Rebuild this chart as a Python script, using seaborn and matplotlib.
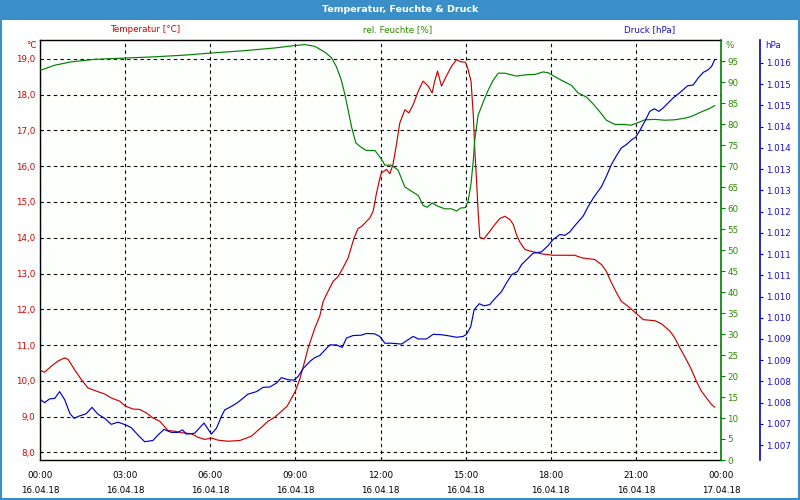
import numpy as np
import pandas as pd
import seaborn as sns
import matplotlib
matplotlib.use("Agg")
import matplotlib.pyplot as plt
from matplotlib.ticker import FuncFormatter, FixedLocator, MultipleLocator
from matplotlib.patches import Rectangle

# ---------------- data (hours since 16.04.18 00:00) ----------------
temp_h = [0.02, 0.16, 0.40, 0.63, 0.87, 0.99, 1.22, 1.46, 1.69, 1.99, 2.28, 2.51, 2.81, 3.01,
          3.28, 3.51, 3.75, 3.98, 4.22, 4.51, 4.75, 4.98, 5.33, 5.57, 5.80, 6.04, 6.27, 6.63,
          7.04, 7.45, 8.04, 8.27, 8.71, 9.00, 9.15, 9.33, 9.45, 9.69, 9.86, 9.98, 10.15, 10.33,
          10.51, 10.68, 10.86, 11.07, 11.21, 11.34, 11.62, 11.74, 11.86, 11.98, 12.03, 12.21,
          12.33, 12.44, 12.56, 12.68, 12.86, 13.00, 13.15, 13.33, 13.50, 13.68, 13.82, 13.91,
          14.01, 14.15, 14.32, 14.50, 14.68, 14.83, 14.99, 15.09, 15.19, 15.27, 15.32, 15.38,
          15.44, 15.50, 15.65, 15.85, 16.03, 16.21, 16.38, 16.56, 16.68, 16.79, 16.91, 17.09,
          17.32, 17.67, 18.08, 18.50, 18.85, 19.08, 19.55, 19.79, 19.96, 20.14, 20.32, 20.49,
          20.73, 20.99, 21.26, 21.67, 21.91, 22.20, 22.37, 22.55, 22.78, 22.96, 23.13, 23.31,
          23.49, 23.66, 23.78]
temp_v = [10.29, 10.24, 10.41, 10.55, 10.64, 10.60, 10.31, 10.03, 9.80, 9.71, 9.63, 9.52, 9.43, 9.29,
          9.21, 9.20, 9.10, 8.96, 8.87, 8.61, 8.59, 8.55, 8.52, 8.42, 8.36, 8.40, 8.34, 8.31,
          8.33, 8.45, 8.87, 8.98, 9.29, 9.71, 10.03, 10.55, 10.92, 11.48, 11.81, 12.22, 12.50, 12.78,
          12.92, 13.16, 13.44, 14.00, 14.26, 14.32, 14.55, 14.74, 15.25, 15.67, 15.81, 15.91,
          15.79, 16.05, 16.60, 17.21, 17.58, 17.49, 17.72, 18.10, 18.38, 18.24, 18.05, 18.38,
          18.66, 18.24, 18.52, 18.79, 18.98, 18.92, 18.91, 18.70, 18.38, 17.44, 16.51, 15.67,
          14.74, 14.01, 13.97, 14.18, 14.37, 14.54, 14.60, 14.51, 14.37, 14.09, 13.88, 13.67,
          13.62, 13.55, 13.51, 13.51, 13.51, 13.44, 13.39, 13.25, 13.06, 12.74, 12.46, 12.22,
          12.08, 11.90, 11.71, 11.68, 11.59, 11.39, 11.20, 10.92, 10.59, 10.31, 9.99, 9.71,
          9.52, 9.34, 9.26]

hum_h = [0.02, 0.52, 1.10, 1.93, 3.01, 4.04, 5.10, 6.04, 7.10, 8.27, 9.00, 9.33, 9.68, 10.04,
         10.27, 10.45, 10.62, 10.74, 10.86, 10.98, 11.13, 11.33, 11.50, 11.80, 11.94, 12.09,
         12.15, 12.39, 12.62, 12.86, 13.09, 13.33, 13.50, 13.65, 13.82, 14.03, 14.27, 14.50,
         14.68, 14.83, 14.99, 15.09, 15.19, 15.27, 15.32, 15.44, 15.62, 15.79, 15.97, 16.15,
         16.38, 16.79, 17.09, 17.44, 17.73, 17.91, 18.14, 18.38, 18.73, 18.96, 19.26, 19.49,
         19.73, 19.96, 20.26, 20.61, 20.82, 20.99, 21.32, 21.67, 22.02, 22.37, 22.73, 22.96,
         23.31, 23.60, 23.78]
hum_v = [92.8, 94.0, 94.8, 95.4, 95.7, 96.0, 96.4, 96.9, 97.4, 98.1, 98.7, 98.9, 98.5, 97.1,
         95.8, 93.6, 90.4, 87.2, 83.3, 79.3, 75.5, 74.4, 73.7, 73.7, 72.5, 71.0,
         70.2, 70.2, 69.0, 65.0, 64.0, 63.0, 60.6, 60.2, 61.2, 60.4, 59.8, 59.8,
         59.3, 60.0, 60.1, 61.8, 65.8, 71.3, 76.1, 82.1, 85.2, 88.0, 90.4, 92.1,
         92.1, 91.4, 91.7, 91.8, 92.4, 92.2, 91.3, 90.4, 89.2, 87.4, 86.4, 84.8,
         82.9, 80.9, 79.9, 79.9, 79.7, 80.1, 81.0, 81.1, 80.9, 81.0, 81.4, 81.8,
         82.9, 83.7, 84.4]

pres_h = [0.02, 0.16, 0.34, 0.52, 0.69, 0.87, 1.05, 1.20, 1.40, 1.63, 1.83, 2.04, 2.28, 2.51,
          2.75, 3.01, 3.22, 3.45, 3.69, 3.98, 4.16, 4.37, 4.63, 4.86, 5.02, 5.16, 5.45, 5.78,
          5.92, 6.04, 6.22, 6.39, 6.51, 6.74, 6.98, 7.33, 7.63, 7.86, 8.10, 8.33, 8.51, 8.74,
          8.95, 9.10, 9.27, 9.51, 9.68, 9.86, 10.04, 10.21, 10.45, 10.65, 10.80, 11.03, 11.33,
          11.50, 11.80, 11.97, 12.09, 12.15, 12.39, 12.74, 12.97, 13.15, 13.33, 13.62, 13.86,
          14.15, 14.44, 14.68, 14.91, 15.03, 15.18, 15.30, 15.48, 15.65, 15.85, 16.03, 16.27,
          16.44, 16.62, 16.83, 16.97, 17.15, 17.38, 17.67, 17.91, 18.08, 18.32, 18.50, 18.67,
          18.85, 19.14, 19.32, 19.50, 19.79, 19.96, 20.14, 20.32, 20.49, 20.67, 20.85, 20.99,
          21.14, 21.32, 21.49, 21.65, 21.81, 21.96, 22.14, 22.32, 22.55, 22.82, 23.02, 23.20,
          23.38, 23.55, 23.67, 23.78]
pres_v = [1008.07, 1008.00, 1008.09, 1008.10, 1008.26, 1008.07, 1007.75, 1007.63, 1007.69, 1007.74,
          1007.89, 1007.73, 1007.63, 1007.49, 1007.54, 1007.48, 1007.41, 1007.24, 1007.08, 1007.11,
          1007.24, 1007.37, 1007.30, 1007.30, 1007.36, 1007.26, 1007.28, 1007.52, 1007.38, 1007.26,
          1007.40, 1007.67, 1007.83, 1007.91, 1008.01, 1008.20, 1008.26, 1008.36, 1008.37, 1008.46,
          1008.59, 1008.54, 1008.53, 1008.62, 1008.80, 1008.97, 1009.06, 1009.11, 1009.24, 1009.36,
          1009.36, 1009.30, 1009.52, 1009.58, 1009.59, 1009.63, 1009.62, 1009.56, 1009.46, 1009.40,
          1009.40, 1009.38, 1009.48, 1009.56, 1009.50, 1009.50, 1009.61, 1009.60, 1009.57, 1009.54,
          1009.56, 1009.61, 1009.79, 1010.19, 1010.33, 1010.28, 1010.31, 1010.45, 1010.62, 1010.82,
          1011.01, 1011.09, 1011.25, 1011.37, 1011.52, 1011.55, 1011.70, 1011.84, 1011.96, 1011.94,
          1012.02, 1012.17, 1012.39, 1012.62, 1012.82, 1013.09, 1013.33, 1013.61, 1013.82, 1014.00,
          1014.08, 1014.19, 1014.25, 1014.41, 1014.63, 1014.86, 1014.92, 1014.86, 1014.94, 1015.06,
          1015.18, 1015.30, 1015.46, 1015.48, 1015.65, 1015.78, 1015.84, 1015.92, 1016.08]

x_ticks = [0, 3, 6, 9, 12, 15, 18, 21, 24]
x_labels = ["00:00\n16.04.18", "03:00\n16.04.18", "06:00\n16.04.18", "09:00\n16.04.18",
            "12:00\n16.04.18", "15:00\n16.04.18", "18:00\n16.04.18", "21:00\n16.04.18",
            "00:00\n17.04.18"]
temp_ticks = [8, 9, 10, 11, 12, 13, 14, 15, 16, 17, 18, 19]
hum_ticks = list(range(0, 100, 5))
pres_ticks = [1007.0, 1007.5, 1008.0, 1008.5, 1009.0, 1009.5, 1010.0, 1010.5, 1011.0, 1011.5,
              1012.0, 1012.5, 1013.0, 1013.5, 1014.0, 1014.5, 1015.0, 1015.5, 1016.0]

title = "Temperatur, Feuchte & Druck"
lbl_temp = "Temperatur [°C]"
lbl_hum = "rel. Feuchte [%]"
lbl_pres = "Druck [hPa]"

# ---------------- style ----------------
sns.set_style("white")
plt.rcParams['font.family'] = ['DejaVu Sans']
FS = 6.3
RED, GREEN, BLUE = "#cc0000", "#008000", "#0000cc"
RED_T, GREEN_T, BLUE_T = "#d40000", "#2a8a00", "#1a10c8"
BAR = "#3b8fc8"

fig = plt.figure(figsize=(8, 5), dpi=100)
fig.patch.set_facecolor("white")
ax = fig.add_axes([40/800, 1-460/500, 681/800, 420/500])
ax.set_facecolor("#fdfffd")
ax2 = ax.twinx()
ax3 = ax.twinx()

df_t = pd.DataFrame({"h": temp_h, "v": temp_v})
df_f = pd.DataFrame({"h": hum_h, "v": hum_v})
df_p = pd.DataFrame({"h": pres_h, "v": pres_v})

sns.lineplot(data=df_t, x="h", y="v", ax=ax, color=RED, linewidth=0.85, estimator=None)
sns.lineplot(data=df_f, x="h", y="v", ax=ax2, color=GREEN, linewidth=0.85, estimator=None)
sns.lineplot(data=df_p, x="h", y="v", ax=ax3, color=BLUE, linewidth=0.85, estimator=None)

for a in (ax, ax2, ax3):
    a.set_xlabel("")
    a.set_ylabel("")
    a.set_xlim(0, 24)

# temperature axis
ax.set_ylim(7.785, 19.53)
ax.yaxis.set_major_locator(FixedLocator(temp_ticks))
ax.yaxis.set_major_formatter(FuncFormatter(lambda v, p: f"{v:.1f}".replace(".", ",")))
ax.tick_params(axis="y", length=0, pad=3.5, labelsize=FS, labelcolor=RED_T)
ax.set_xticks(x_ticks)
ax.set_xticklabels(x_labels, linespacing=1.85)
ax.xaxis.set_minor_locator(MultipleLocator(1))
ax.tick_params(axis="x", which="major", length=3, width=0.8, pad=4.8, labelsize=FS, colors="black")
ax.tick_params(axis="x", which="minor", length=3, width=0.8, colors="black")
ax.grid(True, which="major", color="black", linestyle=(0, (3, 3)), linewidth=0.8)
for s in ("left", "bottom", "top"):
    ax.spines[s].set_color("black")
    ax.spines[s].set_linewidth(1.0)
ax.spines["right"].set_visible(False)

# humidity axis
ax2.set_ylim(0, 100)
ax2.yaxis.set_major_locator(FixedLocator(hum_ticks))
ax2.tick_params(axis="y", length=3, width=0.8, color=GREEN, pad=1.5, labelsize=FS, labelcolor=GREEN_T)
for s in ("left", "bottom", "top"):
    ax2.spines[s].set_visible(False)
ax2.spines["right"].set_color(GREEN)
ax2.spines["right"].set_linewidth(1.2)
ax2.grid(False)

# pressure axis
ax3.set_ylim(1006.65, 1016.54)
ax3.yaxis.set_major_locator(FixedLocator(pres_ticks))
ax3.yaxis.set_major_formatter(FuncFormatter(
    lambda v, p: f"{int(v + 1e-6) // 1000}.{int(v + 1e-6) % 1000:03d}"))
ax3.spines["right"].set_position(("axes", (760 - 40) / 681))
ax3.spines["right"].set_color(BLUE)
ax3.spines["right"].set_linewidth(1.2)
for s in ("left", "bottom", "top"):
    ax3.spines[s].set_visible(False)
ax3.tick_params(axis="y", length=2.5, width=0.8, color=BLUE, pad=1.5, labelsize=FS, labelcolor=BLUE_T)
ax3.grid(False)

# units above axes
fig.text(37/800, 1-45/500, "°C", color=RED_T, fontsize=FS, ha="right", va="center")
fig.text(725/800, 1-45/500, "%", color=GREEN_T, fontsize=FS, ha="left", va="center")
fig.text(765/800, 1-45/500, "hPa", color=BLUE_T, fontsize=FS, ha="left", va="center")

# series headers
fig.text(145/800, 1-30/500, lbl_temp, color=RED_T, fontsize=FS, ha="center", va="center")
fig.text(398/800, 1-30/500, lbl_hum, color=GREEN_T, fontsize=FS, ha="center", va="center")
fig.text(650/800, 1-30/500, lbl_pres, color=BLUE_T, fontsize=FS, ha="center", va="center")

# title bar and border
fig.patches.append(Rectangle((0, 1-20/500), 1, 20/500, transform=fig.transFigure,
                             facecolor=BAR, edgecolor="none", zorder=-1))
fig.patches.append(Rectangle((0.001, 0.002), 0.998, 0.996, transform=fig.transFigure,
                             facecolor="none", edgecolor=BAR, linewidth=1.5, zorder=-1))
fig.text(0.5, 1-9.5/500, title, color="white", fontsize=6.8, fontweight="bold",
         ha="center", va="center")

fig.savefig("out.png", dpi=100)
